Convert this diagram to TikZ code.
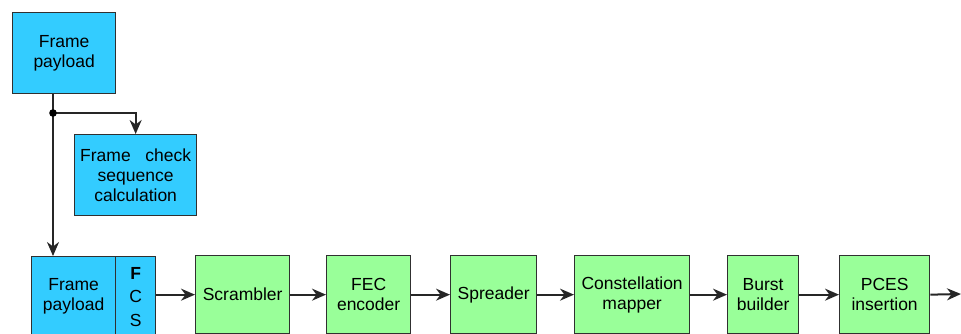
\documentclass[tikz,border=0pt]{standalone}
\usepackage{fontspec}
\setmainfont{Liberation Sans}
\usetikzlibrary{arrows.meta,calc}
\definecolor{payblue}{HTML}{33CCFF}
\definecolor{procgreen}{HTML}{99FF99}
\definecolor{edge}{HTML}{303030}
\begin{document}
\begin{tikzpicture}[x=1pt,y=-1pt,
  every node/.style={font=\fontsize{17.5}{20}\selectfont, text=black},
  bluebox/.style={draw=edge, line width=1.3pt, fill=payblue, inner sep=0pt, align=center, anchor=north west},
  greenbox/.style={draw=edge, line width=1.3pt, fill=procgreen, inner sep=0pt, align=center, anchor=north west},
  flow/.style={draw=black!85, line width=2pt, -{Stealth[length=14pt,width=12pt,inset=4.5pt]}},
  wire/.style={draw=black!85, line width=2pt}]
\useasboundingbox (0,0) rectangle (961,333);
\clip (0,0) rectangle (961,333);

% payload source and checksum block
\node[bluebox, minimum width=103pt, minimum height=81pt] (fp) at (12,12) {Frame\\payload};
\node[bluebox, minimum width=122pt, minimum height=81pt] (fcsc) at (74,134) {Frame\ \ \ check\\sequence\\calculation};

% assembled frame: payload plus FCS field
\node[bluebox, minimum width=84pt, minimum height=80pt] (fp2) at (31,256) {Frame\\payload};
\node[bluebox, minimum width=40pt, minimum height=80pt, font=\fontsize{17.5}{23.5}\selectfont] (fcs) at (115,256) {\textbf{F}\\C\\S};

% transmit chain
\node[greenbox, minimum width=94pt, minimum height=78pt] (scr) at (195,255) {Scrambler};
\node[greenbox, minimum width=84pt, minimum height=78pt] (fec) at (326,255) {FEC\\encoder};
\node[greenbox, minimum width=86pt, minimum height=78pt] (spr) at (450,255) {Spreader};
\node[greenbox, minimum width=115pt, minimum height=78pt] (con) at (574,255) {Constellation\\mapper};
\node[greenbox, minimum width=71pt, minimum height=78pt] (bur) at (727,255) {Burst\\builder};
\node[greenbox, minimum width=90pt, minimum height=78pt] (pce) at (839,255) {PCES\\insertion};

% branch point below the payload
\coordinate (j) at (53,113);
\coordinate (out) at (961,294);
\draw[wire] (j |- fp.south) -- (j);
\draw[flow] (j) -- (j -| fcsc.north) -- (fcsc.north);
\draw[flow] (j) -- (j |- fp2.north);
\fill[black] (j) circle (3.8pt);

% chain connectors
\draw[flow] (fcs.east |- scr.west) -- (scr.west);
\draw[flow] (scr.east) -- (fec.west);
\draw[flow] (fec.east) -- (spr.west);
\draw[flow] (spr.east) -- (con.west);
\draw[flow] (con.east) -- (bur.west);
\draw[flow] (bur.east) -- (pce.west);
\draw[flow] (pce.east) -- (out);
\end{tikzpicture}
\end{document}
